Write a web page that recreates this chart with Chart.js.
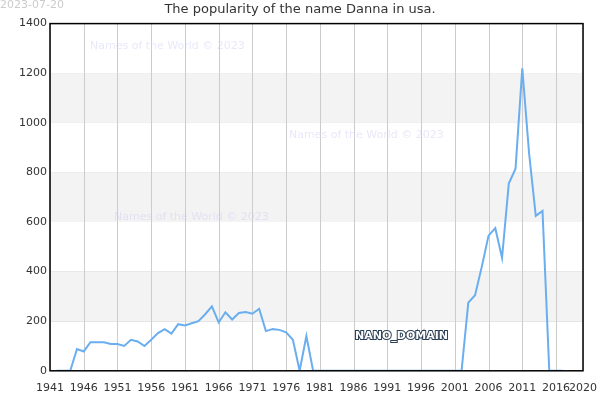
<!DOCTYPE html>
<html><head><meta charset="utf-8">
<script src="https://cdn.jsdelivr.net/npm/chart.js@4"></script>
<style>body{margin:0}#wrap{width:600px;height:400px;position:relative}</style>
</head><body><div id="wrap"><canvas id="c"></canvas></div>
<script>
const years = [];
for (let y = 1942; y <= 2017; y++) years.push(y);
const counts = [0,0,0,88,78,115,115,115,108,108,100,125,118,100,125,152,168,150,188,183,
  192,200,228,260,195,236,207,233,237,230,250,160,168,165,155,125,0,140,0,0,
  0,0,0,0,0,0,0,0,0,0,0,0,0,0,0,0,0,0,0,0,
  0,275,305,420,545,575,455,755,815,1220,880,625,645,0,0,0];
const xTicks = [1941,1946,1951,1956,1961,1966,1971,1976,1981,1986,1991,1996,2001,2006,2011,2016,2020];
const bands = [[200,400],[600,800],[1000,1200]];

const decor = {
  id: 'decor',
  beforeDatasetsDraw(chart) {
    const {ctx, chartArea: a, scales: {x, y}} = chart;
    ctx.save();
    ctx.fillStyle = '#f3f3f3';
    bands.forEach(([lo, hi]) => ctx.fillRect(a.left, y.getPixelForValue(hi), a.right - a.left, y.getPixelForValue(lo) - y.getPixelForValue(hi)));
    // vertical grid drawn over the bands
    ctx.strokeStyle = '#ccc'; ctx.lineWidth = 1;
    xTicks.forEach(v => {
      const px = Math.round(x.getPixelForValue(v)) + 0.5;
      ctx.beginPath(); ctx.moveTo(px, a.top); ctx.lineTo(px, a.bottom); ctx.stroke();
    });
    ctx.fillStyle = 'rgba(205,205,245,0.45)';
    ctx.font = '11px DejaVu Sans';
    ctx.fillText('Names of the World © 2023', 90, 49);
    ctx.fillText('Names of the World © 2023', 289, 138);
    ctx.fillText('Names of the World © 2023', 114, 220);
    ctx.restore();
  },
  afterDraw(chart) {
    const {ctx, chartArea: a} = chart;
    ctx.save();
    ctx.strokeStyle = '#000'; ctx.lineWidth = 1.5;
    ctx.strokeRect(a.left, a.top, a.right - a.left, a.bottom - a.top);
    ctx.font = '11px DejaVu Sans';
    ctx.fillStyle = '#ccc';
    ctx.fillText('2023-07-20', 0, 8);
    ctx.font = 'bold 11px DejaVu Sans';
    ctx.lineWidth = 2; ctx.strokeStyle = '#2a3f55';
    ctx.strokeText('NANO_DOMAIN', 355, 339);
    ctx.fillStyle = '#fff';
    ctx.fillText('NANO_DOMAIN', 355, 339);
    ctx.restore();
  }
};

new Chart(document.getElementById('c'), {
  type: 'line',
  data: { datasets: [{ data: years.map((x, i) => ({x, y: counts[i]})), borderColor: '#6aaef0', borderWidth: 2, pointRadius: 0, tension: 0, fill: false }] },
  options: {
    responsive: true, maintainAspectRatio: false, animation: false,
    layout: { padding: { right: 16, left: 16, bottom: 2 } },
    plugins: {
      legend: { display: false }, tooltip: { enabled: false },
      title: { display: true, text: 'The popularity of the name Danna in usa.', color: '#333', font: { family: 'DejaVu Sans', size: 13, weight: 'normal' }, padding: { top: 2, bottom: 6 } }
    },
    scales: {
      x: { type: 'linear', min: 1941, max: 2020,
        afterBuildTicks: s => { s.ticks = xTicks.map(v => ({value: v})); },
        ticks: { color: '#333', font: { family: 'DejaVu Sans', size: 11 }, maxRotation: 0, autoSkip: false, callback: v => String(v) },
        grid: { display: false }, border: { display: false } },
      y: { min: 0, max: 1400, ticks: { stepSize: 200, color: '#333', font: { family: 'DejaVu Sans', size: 11 }, callback: v => String(v) }, grid: { color: '#e2e2e2', drawTicks: false }, border: { display: false } }
    }
  },
  plugins: [decor]
});
</script></body></html>
